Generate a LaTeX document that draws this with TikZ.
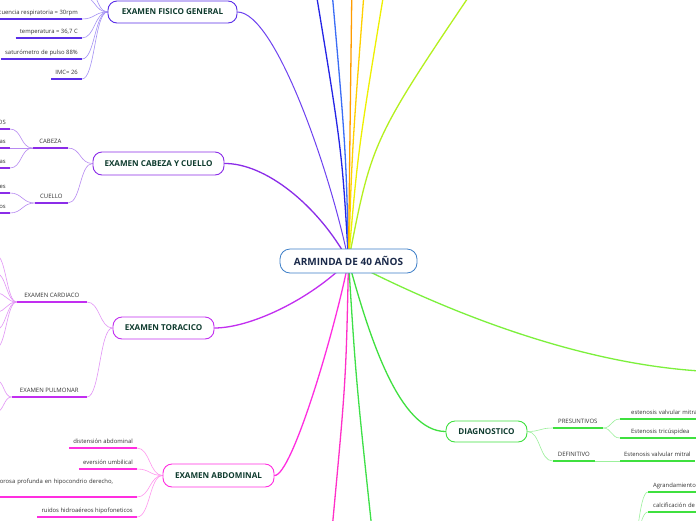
\documentclass[tikz,border=0pt]{standalone}
\usepackage{fontspec}
\setmainfont{Open Sans}
\usetikzlibrary{backgrounds}
\definecolor{titlegreen}{HTML}{0E3B2E}
\definecolor{rootT}{HTML}{1B2A4A}
\definecolor{rootB}{HTML}{3E7FC8}
\definecolor{leafgray}{HTML}{333333}
\definecolor{fisB}{HTML}{5A2EE8}
\definecolor{fisL}{HTML}{A592F5}
\definecolor{fisM}{HTML}{6E42F0}
\definecolor{cabB}{HTML}{8B2CE8}
\definecolor{cabL}{HTML}{B88AF2}
\definecolor{torB}{HTML}{C22EF0}
\definecolor{torL}{HTML}{E294F6}
\definecolor{abdB}{HTML}{FF2EE0}
\definecolor{abdL}{HTML}{FF97EE}
\definecolor{diaB}{HTML}{3FE03F}
\definecolor{diaL}{HTML}{9CF09C}
\definecolor{cDblue}{HTML}{2424E6}
\definecolor{cBlue}{HTML}{3B6DF5}
\definecolor{cOrange}{HTML}{FF9C00}
\definecolor{cYellow}{HTML}{FFD000}
\definecolor{cYellow2}{HTML}{EEF000}
\definecolor{cLime}{HTML}{B4F01E}
\definecolor{cMag}{HTML}{FF30C8}
\definecolor{cGreen}{HTML}{3EE048}
\definecolor{cLgreen}{HTML}{7CF03C}
\tikzset{
  rootbox/.style={draw=rootB, fill=white, rounded corners=10pt, line width=0.8pt,
    minimum width=137pt, minimum height=24pt, inner sep=0pt,
    font=\fontsize{10}{12}\selectfont\bfseries, text=rootT},
  topicbox/.style={fill=white, rounded corners=9pt, line width=0.9pt, inner sep=0pt,
    font=\fontsize{8.1}{9}\selectfont\bfseries, text=titlegreen},
  sublabel/.style={inner xsep=0pt, inner ysep=3.2pt, text height=4.2pt, text depth=1.2pt,
    font=\fontsize{6}{7}\selectfont, text=leafgray, anchor=south east},
  leafL/.style={inner xsep=4pt, inner ysep=3.2pt, text height=4.2pt, text depth=1.2pt,
    font=\fontsize{5.9}{7}\selectfont, text=leafgray, anchor=south east},
  leafR/.style={leafL, anchor=south west},
  leafconn/.style={draw=#1, line width=0.6pt},
  uline/.style={draw=#1, line width=1.4pt},
  mainline/.style={draw=#1, line width=1.3pt, line cap=round},
}
\begin{document}
\begin{tikzpicture}[x=1pt,y=-1pt]
\useasboundingbox (0,0) rectangle (696,520);
\clip (0,0) rectangle (696,520);

% main nodes
\node[rootbox] (root) at (348.5,261) {ARMINDA DE 40 AÑOS};
\node[topicbox, draw=fisB, minimum width=129pt, minimum height=22pt] (fis) at (172.5,12) {EXAMEN FISICO GENERAL};
\node[topicbox, draw=cabB, minimum width=131pt, minimum height=23pt] (cab) at (158.5,163.5) {EXAMEN CABEZA Y CUELLO};
\node[topicbox, draw=torB, minimum width=101pt, minimum height=22pt] (tor) at (163.5,328) {EXAMEN TORACICO};
\node[topicbox, draw=abdB, minimum width=111pt, minimum height=23pt] (abd) at (218.5,475.5) {EXAMEN ABDOMINAL};
\node[topicbox, draw=diaB, minimum width=81pt, minimum height=21pt] (dia) at (486.5,431.5) {DIAGNOSTICO};

% examen fisico leaves
\node[leafL] (f1) at (82,19) {Frecuencia respiratoria = 30rpm};
\node[leafL] (f2) at (82,38) {temperatura = 36,7 C};
\node[leafL] (f3) at (82,59) {saturómetro de pulso 88\%};
\node[leafL] (f4) at (82,79) {IMC= 26};
\coordinate (f0a) at (82,-4);
\coordinate (f0b) at (82,-24);

% cabeza y cuello
\node[sublabel, minimum width=35pt] (cabeza) at (68,148) {CABEZA};
\node[sublabel, minimum width=33pt] (cuello) at (68,203) {CUELLO};
\node[leafL] (ca1) at (10,129) {OS};
\node[leafL] (ca2) at (10,148) {as};
\node[leafL] (ca3) at (10,168) {as};
\node[leafL] (cu1) at (10,193) {es};
\node[leafL] (cu2) at (10,213) {os};

% toracico
\node[sublabel, minimum width=70pt] (card) at (87,302) {EXAMEN CARDIACO};
\node[sublabel, minimum width=75pt] (pulm) at (87,397) {EXAMEN PULMONAR};
\coordinate (cd1) at (-4,255);
\coordinate (cd2) at (-4,273);
\coordinate (cd3) at (-4,293);
\coordinate (cd4) at (-4,312);
\coordinate (cd5) at (-4,330);
\coordinate (cd6) at (-4,348);
\coordinate (pm1) at (-4,380);
\coordinate (pm2) at (-4,412);

% abdominal
\node[leafL] (a1) at (137,448) {distensión abdominal};
\node[leafL] (a2) at (137,469) {eversión umbilical};
\node[leafL, text width=133pt, align=left, text depth=10pt] (a3) at (137,497) {orosa profunda en hipocondrio derecho,};
\node[leafL] (a4) at (137,517) {ruidos hidroaéreos hipofoneticos};

% diagnostico
\node[sublabel, minimum width=50pt] (pres) at (603,428) {PRESUNTIVOS};
\node[sublabel, minimum width=42pt] (def) at (595,461) {DEFINITIVO};
\node[leafR, inner xsep=11pt, text width=80pt, align=left] (p1) at (620,419) {estenosis valvular mitral};
\node[leafR, inner xsep=11pt, text width=80pt, align=left] (p2) at (620,438) {Estenosis tricúspidea};
\node[leafR] (d1) at (620,461) {Estenosis valvular mitral};
\node[leafR, inner xsep=5pt, text width=60pt, align=left] (g1) at (648,492) {Agrandamiento};
\node[leafR, inner xsep=5pt, text width=60pt, align=left] (g2) at (648,512) {calcificación de};
\coordinate (gpar) at (628,560);

% free ends of main lines
\coordinate (t1) at (314,-20);
\coordinate (t2) at (331,-20);
\coordinate (t3) at (352,-20);
\coordinate (t4) at (365,-20);
\coordinate (t5) at (386,-20);
\coordinate (t6) at (480,-20);
\coordinate (b1) at (332,530);
\coordinate (b2) at (372,530);
\coordinate (r1) at (700,371);

% underlines
\foreach \n in {f1,f2,f3,f4} \draw[uline=fisB] (\n.south west) -- (\n.south east);
\foreach \n in {cabeza,cuello,ca1,ca2,ca3,cu1,cu2} \draw[uline=cabB] (\n.south west) -- (\n.south east);
\foreach \n in {card,pulm} \draw[uline=torB] (\n.south west) -- (\n.south east);
\foreach \n in {a1,a2,a3,a4} \draw[uline=abdB] (\n.south west) -- (\n.south east);
\foreach \n in {pres,def,p1,p2,d1,g1,g2} \draw[uline=diaB] (\n.south west) -- (\n.south east);

\begin{scope}[on background layer]
\fill[white] (0,0) rectangle (696,520);
\clip (0,0) rectangle (696,520);
% main lines
\draw[mainline=cDblue] (root.center) .. controls (342,150) .. (t1);
\draw[mainline=cBlue] (root.center) .. controls (346,150) .. (t2);
\draw[mainline=cOrange] (root.center) .. controls (350,130) .. (t3);
\draw[mainline=cYellow] (root.center) .. controls (352,150) .. (t4);
\draw[mainline=cYellow2] (root.center) .. controls (358,150) .. (t5);
\draw[mainline=cLime] (root.center) .. controls (372,140) .. (t6);
\draw[mainline=fisM, line width=1pt] (fis.east) .. controls (275,12) and (330,170) .. (root.center);
\draw[mainline=cabB] (cab.east) .. controls (265,163) and (318,205) .. (root.center);
\draw[mainline=torB] (tor.east) .. controls (250,328) and (310,300) .. (root.center);
\draw[mainline=abdB] (abd.east) .. controls (292,476) and (335,330) .. (root.center);
\draw[mainline=cMag] (root.center) .. controls (346,380) .. (b1);
\draw[mainline=cGreen] (root.center) .. controls (356,380) .. (b2);
\draw[mainline=diaB] (root.center) .. controls (370,340) and (400,431.5) .. (dia.west);
\draw[mainline=cLgreen] (root.center) .. controls (420,298) and (560,362) .. (r1);

% fisico connectors
\foreach \n in {f1,f2,f3,f4}
  \draw[leafconn=fisL] (fis.west) .. controls +(-13,0) and +(13,0) .. (\n.south east);
\draw[leafconn=fisL] (fis.west) .. controls +(-13,0) and +(13,0) .. (f0a);
\draw[leafconn=fisL] (fis.west) .. controls +(-13,0) and +(13,0) .. (f0b);
% cabeza y cuello connectors
\foreach \n in {cabeza,cuello}
  \draw[leafconn=cabL] (cab.west) .. controls +(-13,0) and +(13,0) .. (\n.south east);
\foreach \n in {ca1,ca2,ca3}
  \draw[leafconn=cabL] (cabeza.south west) .. controls +(-12,0) and +(12,0) .. (\n.south east);
\foreach \n in {cu1,cu2}
  \draw[leafconn=cabL] (cuello.south west) .. controls +(-12,0) and +(12,0) .. (\n.south east);
% toracico connectors
\foreach \n in {card,pulm}
  \draw[leafconn=torL] (tor.west) .. controls +(-13,0) and +(13,0) .. (\n.south east);
\foreach \n in {cd1,cd2,cd3,cd4,cd5,cd6}
  \draw[leafconn=torL] (card.south west) .. controls +(-10,0) and +(10,0) .. (\n);
\foreach \n in {pm1,pm2}
  \draw[leafconn=torL] (pulm.south west) .. controls +(-8,0) and +(8,0) .. (\n);
% abdominal connectors
\foreach \n in {a1,a2,a3,a4}
  \draw[leafconn=abdL] (abd.west) .. controls +(-13,0) and +(13,0) .. (\n.south east);
% diagnostico connectors
\foreach \n in {pres,def}
  \draw[leafconn=diaL] (dia.east) .. controls +(13,0) and +(-13,0) .. (\n.south west);
\foreach \n in {p1,p2}
  \draw[leafconn=diaL] (pres.south east) .. controls +(9,0) and +(-9,0) .. (\n.south west);
\draw[leafconn=diaL] (def.south east) -- (d1.south west);
\foreach \n in {g1,g2}
  \draw[leafconn=diaL] (gpar) .. controls +(10,0) and +(-10,0) .. (\n.south west);
\end{scope}
\end{tikzpicture}
\end{document}
